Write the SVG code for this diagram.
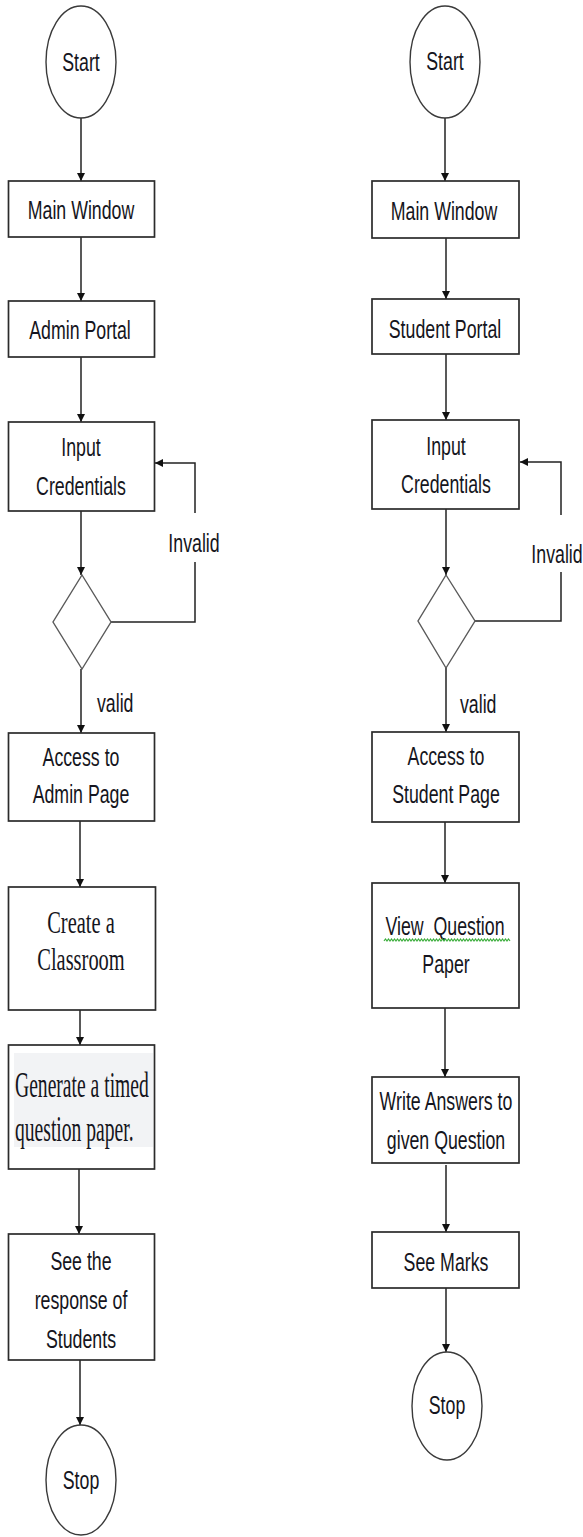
<svg xmlns="http://www.w3.org/2000/svg" width="583" height="1537" viewBox="0 0 583 1537">
<style>
.bg{fill:#ffffff}
.box{fill:#ffffff;stroke:#2b2b2b;stroke-width:1.7}
.term{fill:#ffffff;stroke:#3a3a3a;stroke-width:1.4}
.dec{fill:#ffffff;stroke:#5a5a5a;stroke-width:1.4}
.shade{fill:#f2f3f5}
.edge{fill:none;stroke:#222222;stroke-width:1.5}
.s{font-family:"Liberation Sans",Arial,sans-serif;font-size:25px;fill:#151520;text-anchor:middle}
.sl{font-family:"Liberation Sans",Arial,sans-serif;font-size:25px;fill:#151520;text-anchor:start}
.r{font-family:"Liberation Serif","Times New Roman",serif;font-size:31px;fill:#151520;text-anchor:middle}
.rl{font-family:"Liberation Serif","Times New Roman",serif;font-size:35px;fill:#151520;text-anchor:start}
.wavy{fill:none;stroke:#3cae3c;stroke-width:1.2}
</style>
<defs>
<marker id="ah" viewBox="0 0 10 10" refX="10" refY="5" markerWidth="9" markerHeight="8" markerUnits="userSpaceOnUse" orient="auto">
<path d="M0,0 L10,5 L0,10 z" fill="#111111"/>
</marker>
</defs>
<rect class="bg" x="0" y="0" width="583" height="1537"/>

<g id="connectors">
<path class="edge" d="M81 118 V181" marker-end="url(#ah)"/>
<path class="edge" d="M81 237 V301" marker-end="url(#ah)"/>
<path class="edge" d="M81 357 V422" marker-end="url(#ah)"/>
<path class="edge" d="M81 511 V575" marker-end="url(#ah)"/>
<path class="edge" d="M111 622 H195 V562"/>
<path class="edge" d="M195 513 V463 H155" marker-end="url(#ah)"/>
<path class="edge" d="M81 669 V733" marker-end="url(#ah)"/>
<path class="edge" d="M80 821 V887" marker-end="url(#ah)"/>
<path class="edge" d="M80 1010 V1045" marker-end="url(#ah)"/>
<path class="edge" d="M79 1169 V1234" marker-end="url(#ah)"/>
<path class="edge" d="M80 1360 V1425" marker-end="url(#ah)"/>
<path class="edge" d="M445 118 V181" marker-end="url(#ah)"/>
<path class="edge" d="M446 238 V299" marker-end="url(#ah)"/>
<path class="edge" d="M446 354 V420" marker-end="url(#ah)"/>
<path class="edge" d="M446 509 V575" marker-end="url(#ah)"/>
<path class="edge" d="M475 621 H561 V572"/>
<path class="edge" d="M561 515 V462 H520" marker-end="url(#ah)"/>
<path class="edge" d="M446 668 V732" marker-end="url(#ah)"/>
<path class="edge" d="M445 822 V883" marker-end="url(#ah)"/>
<path class="edge" d="M445 1008 V1077" marker-end="url(#ah)"/>
<path class="edge" d="M446 1165 V1232" marker-end="url(#ah)"/>
<path class="edge" d="M446 1288 V1352" marker-end="url(#ah)"/>
</g>

<g id="labels">
<text class="s" transform="matrix(0.71 0 0 1 194 552)">Invalid</text>
<text class="sl" transform="matrix(0.71 0 0 1 97 712)">valid</text>
<text class="s" transform="matrix(0.71 0 0 1 557 563)">Invalid</text>
<text class="sl" transform="matrix(0.71 0 0 1 460 713)">valid</text>
</g>

<g id="L_start">
<ellipse class="term" cx="81" cy="62" rx="35" ry="56"/>
<text class="s" transform="matrix(0.71 0 0 1 81 71)">Start</text>
</g>
<g id="L_main">
<rect class="box" x="8.5" y="181" width="146" height="56"/>
<text class="s" transform="matrix(0.71 0 0 1 81 219)">Main Window</text>
</g>
<g id="L_admin_portal">
<rect class="box" x="8.5" y="301" width="146" height="56"/>
<text class="s" transform="matrix(0.71 0 0 1 80 339)">Admin Portal</text>
</g>
<g id="L_input">
<rect class="box" x="8.5" y="422" width="146" height="89"/>
<text class="s" transform="matrix(0.71 0 0 1 81 456)">Input</text>
<text class="s" transform="matrix(0.71 0 0 1 81 495)">Credentials</text>
</g>
<g id="L_decision">
<polygon class="dec" points="82,575 111,622 82,669 53,622"/>
</g>
<g id="L_access">
<rect class="box" x="8.5" y="733" width="146" height="88"/>
<text class="s" transform="matrix(0.71 0 0 1 81 766)">Access to</text>
<text class="s" transform="matrix(0.71 0 0 1 81 803)">Admin Page</text>
</g>
<g id="L_classroom">
<rect class="box" x="8.5" y="887" width="147" height="123"/>
<text class="r" transform="matrix(0.66 0 0 1 81 933)">Create a</text>
<text class="r" transform="matrix(0.66 0 0 1 81 970)">Classroom</text>
</g>
<g id="L_generate">
<rect class="box" x="8.5" y="1045" width="146" height="124"/>
<rect class="shade" x="14" y="1053" width="139" height="94"/>
<text class="rl" transform="matrix(0.56 0 0 1 15 1097)">Generate a timed</text>
<text class="rl" transform="matrix(0.56 0 0 1 15 1141)">question paper.</text>
</g>
<g id="L_response">
<rect class="box" x="8.5" y="1234" width="146" height="126"/>
<text class="s" transform="matrix(0.71 0 0 1 81 1270)">See the</text>
<text class="s" transform="matrix(0.71 0 0 1 81 1309)">response of</text>
<text class="s" transform="matrix(0.71 0 0 1 81 1348)">Students</text>
</g>
<g id="L_stop">
<ellipse class="term" cx="81" cy="1480" rx="35" ry="55"/>
<text class="s" transform="matrix(0.71 0 0 1 81 1489)">Stop</text>
</g>

<g id="R_start">
<ellipse class="term" cx="445" cy="62" rx="35" ry="56"/>
<text class="s" transform="matrix(0.71 0 0 1 445 70)">Start</text>
</g>
<g id="R_main">
<rect class="box" x="372" y="181" width="147" height="57"/>
<text class="s" transform="matrix(0.71 0 0 1 444 220)">Main Window</text>
</g>
<g id="R_student_portal">
<rect class="box" x="372" y="299" width="147" height="55"/>
<text class="s" transform="matrix(0.71 0 0 1 445 338)">Student Portal</text>
</g>
<g id="R_input">
<rect class="box" x="372" y="420" width="147" height="89"/>
<text class="s" transform="matrix(0.71 0 0 1 446 455)">Input</text>
<text class="s" transform="matrix(0.71 0 0 1 446 493)">Credentials</text>
</g>
<g id="R_decision">
<polygon class="dec" points="446,575 475,621 446,668 418,621"/>
</g>
<g id="R_access">
<rect class="box" x="372" y="732" width="147" height="90"/>
<text class="s" transform="matrix(0.71 0 0 1 446 765)">Access to</text>
<text class="s" transform="matrix(0.71 0 0 1 446 803)">Student Page</text>
</g>
<g id="R_view">
<rect class="box" x="372" y="883" width="147" height="125"/>
<text class="s" xml:space="preserve" transform="matrix(0.71 0 0 1 445 935)">View  Question</text>
<path class="wavy" d="M384 941 l1.5 -2 l1.5 2 l1.5 -2 l1.5 2 l1.5 -2 l1.5 2 l1.5 -2 l1.5 2 l1.5 -2 l1.5 2 l1.5 -2 l1.5 2 l1.5 -2 l1.5 2 l1.5 -2 l1.5 2 l1.5 -2 l1.5 2 l1.5 -2 l1.5 2 l1.5 -2 l1.5 2 l1.5 -2 l1.5 2 l1.5 -2 l1.5 2 l1.5 -2 l1.5 2 l1.5 -2 l1.5 2 l1.5 -2 l1.5 2 l1.5 -2 l1.5 2 l1.5 -2 l1.5 2 l1.5 -2 l1.5 2 l1.5 -2 l1.5 2 l1.5 -2 l1.5 2 l1.5 -2 l1.5 2 l1.5 -2 l1.5 2 l1.5 -2 l1.5 2 l1.5 -2 l1.5 2 l1.5 -2 l1.5 2 l1.5 -2 l1.5 2 l1.5 -2 l1.5 2 l1.5 -2 l1.5 2 l1.5 -2 l1.5 2 l1.5 -2 l1.5 2 l1.5 -2 l1.5 2 l1.5 -2 l1.5 2 l1.5 -2 l1.5 2 l1.5 -2 l1.5 2 l1.5 -2 l1.5 2 l1.5 -2 l1.5 2 l1.5 -2 l1.5 2 l1.5 -2 l1.5 2 l1.5 -2 l1.5 2 l1.5 -2 l1.5 2 l1.5 -2 l1.5 2"/>
<text class="s" transform="matrix(0.71 0 0 1 446 973)">Paper</text>
</g>
<g id="R_write">
<rect class="box" x="372" y="1077" width="147" height="86"/>
<text class="s" transform="matrix(0.71 0 0 1 446 1110)">Write Answers to</text>
<text class="s" transform="matrix(0.71 0 0 1 446 1149)">given Question</text>
</g>
<g id="R_marks">
<rect class="box" x="372" y="1232" width="147" height="56"/>
<text class="s" transform="matrix(0.71 0 0 1 446 1271)">See Marks</text>
</g>
<g id="R_stop">
<ellipse class="term" cx="447" cy="1406" rx="35" ry="54"/>
<text class="s" transform="matrix(0.71 0 0 1 447 1414)">Stop</text>
</g>
</svg>
